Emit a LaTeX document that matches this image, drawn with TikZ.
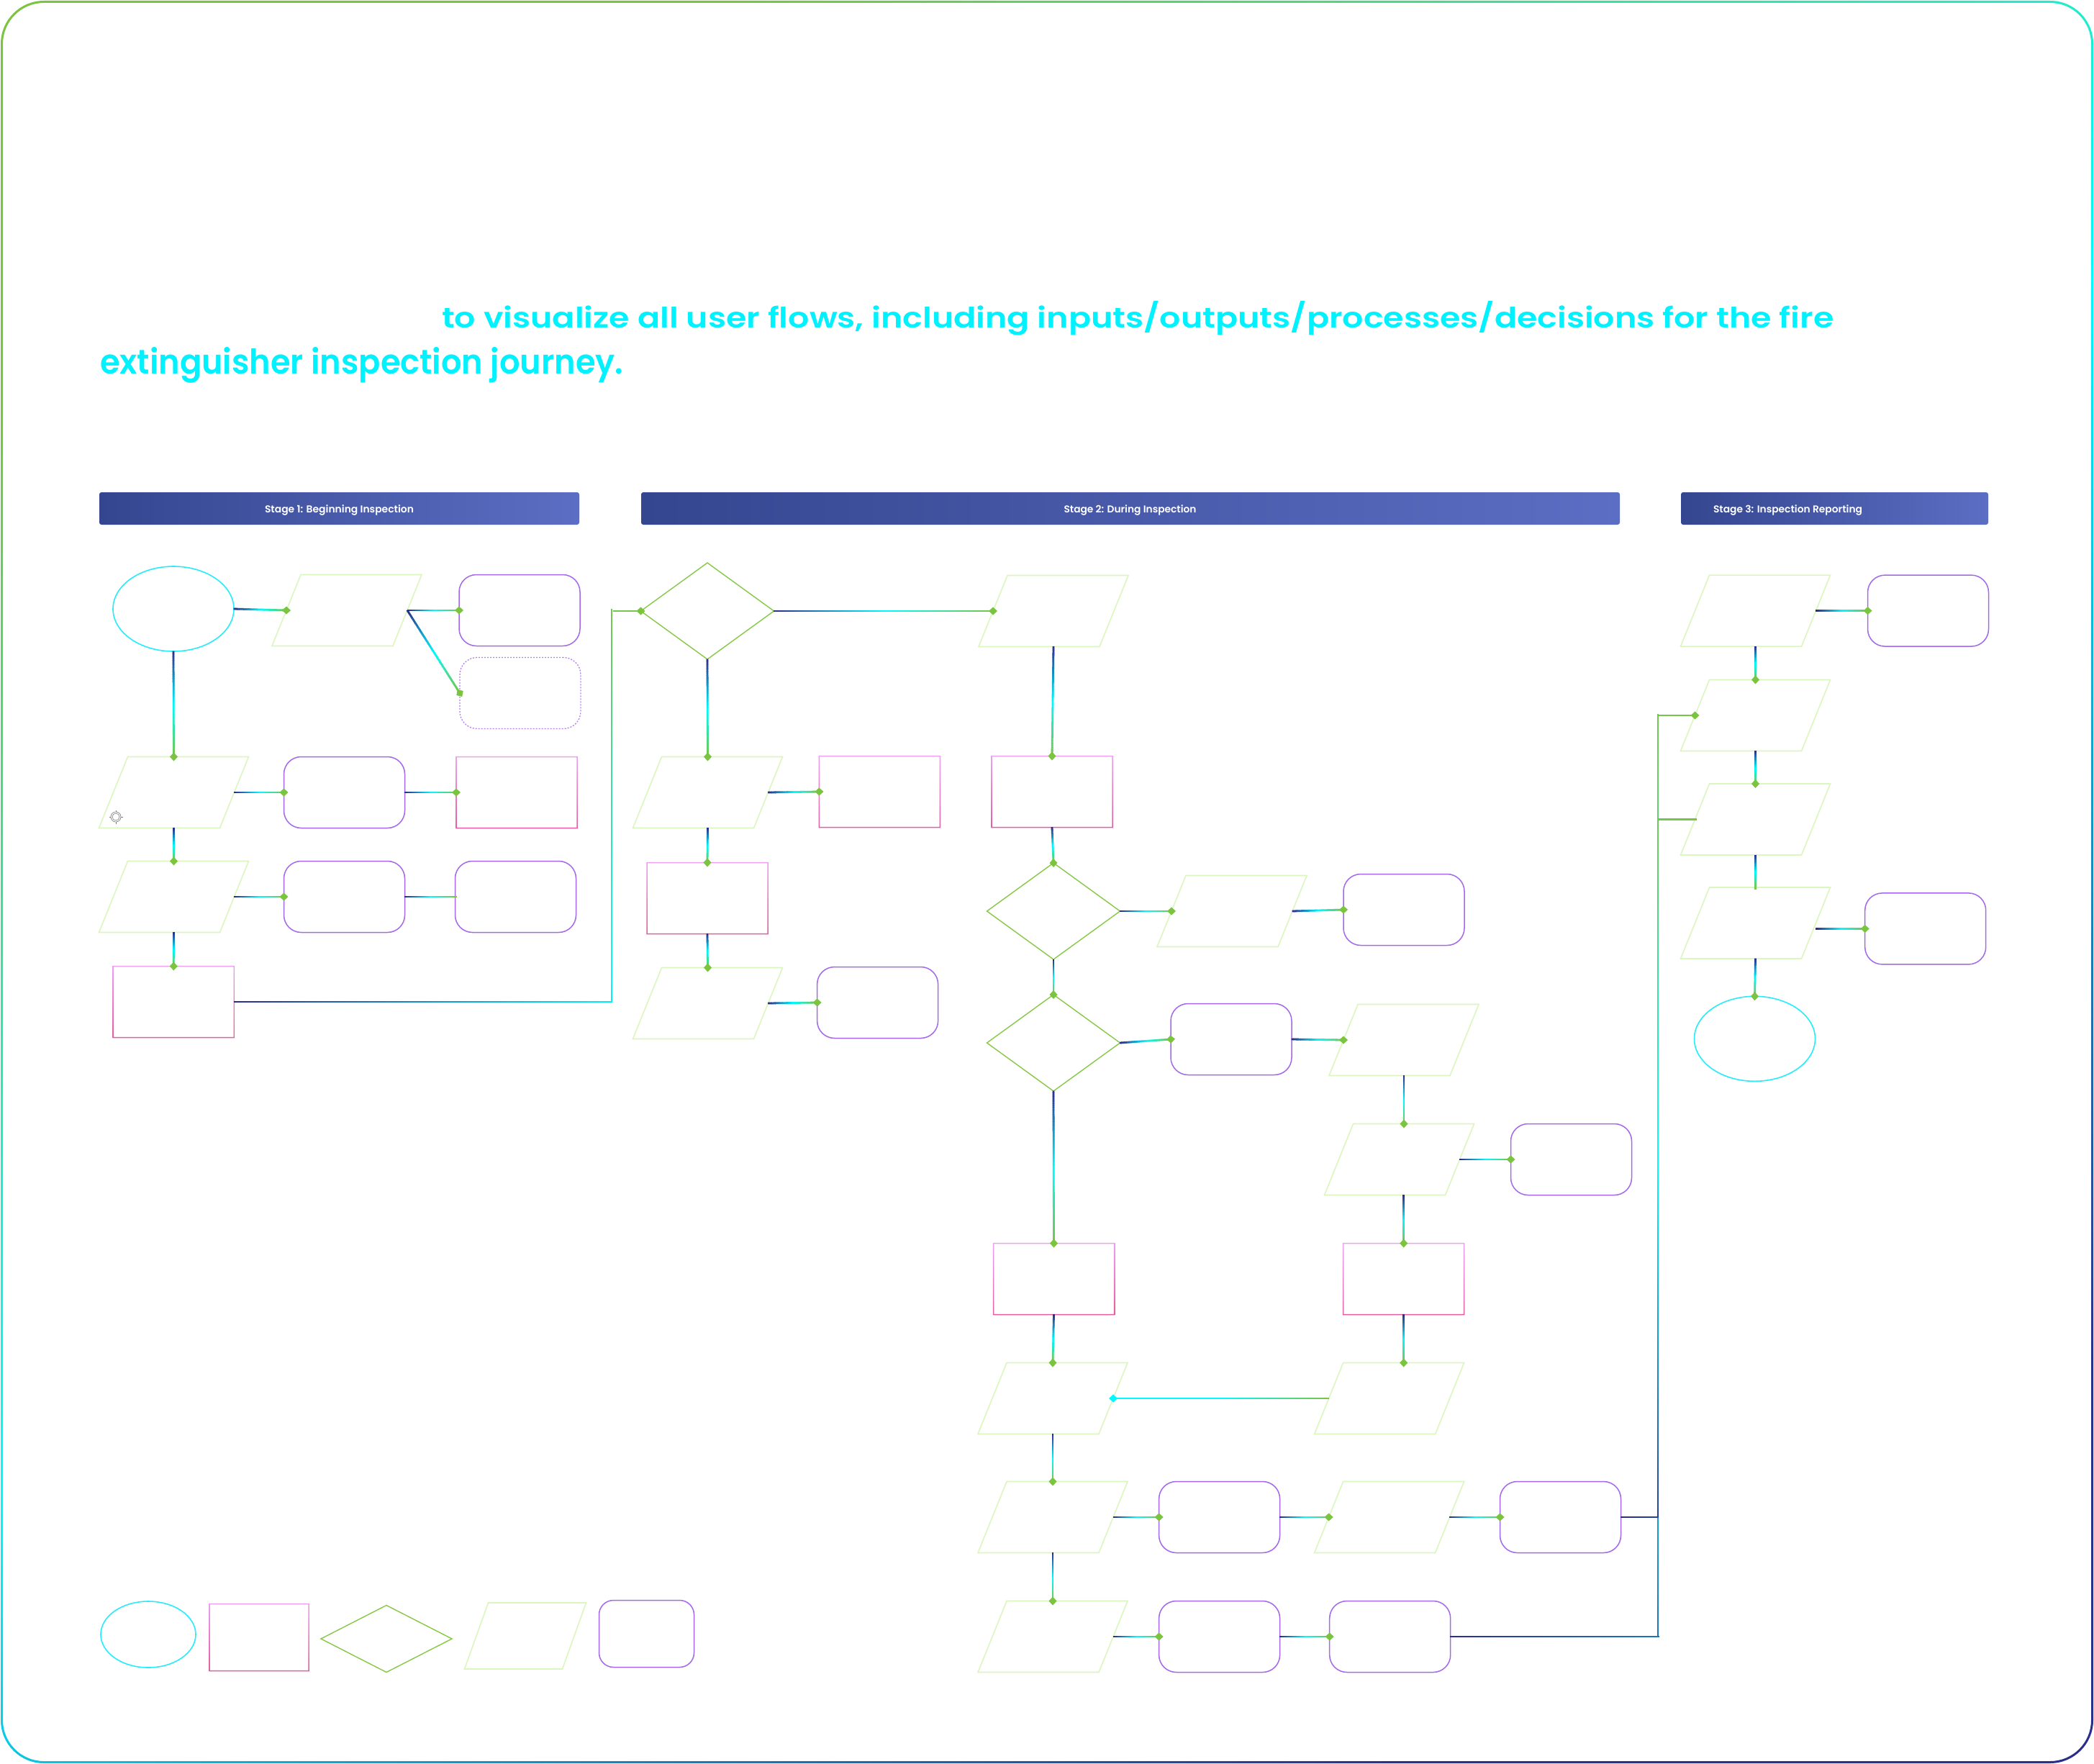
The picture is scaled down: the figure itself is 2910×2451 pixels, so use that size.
\documentclass[tikz,border=0pt]{standalone}
\usepackage{fontspec}
\usetikzlibrary{shapes.geometric,decorations.markings,calc}
\newfontfamily\popp{Poppins SemiBold}
\definecolor{cnavy}{RGB}{43,47,140}
\definecolor{ccyan}{RGB}{0,250,255}
\definecolor{cgreen}{RGB}{122,196,64}
\definecolor{titlec}{RGB}{0,242,255}
\definecolor{termc}{RGB}{40,236,250}
\definecolor{ioc}{RGB}{220,246,192}
\definecolor{decc}{RGB}{135,200,70}
\definecolor{rndc}{RGB}{164,104,234}
\definecolor{procA}{RGB}{236,160,238}
\definecolor{procB}{RGB}{230,92,160}
\definecolor{hdrA}{RGB}{52,70,143}
\definecolor{hdrB}{RGB}{92,110,195}
\definecolor{iconc}{RGB}{120,120,120}
\pgfdeclarehorizontalshading{framegrad}{100bp}{color(0bp)=(cgreen); color(25bp)=(cgreen); color(50bp)=(ccyan); color(75bp)=(cnavy); color(100bp)=(cnavy)}
\newcommand\gsegcode{%
  \pgfmathsetmacro\flowt{\pgfkeysvalueof{/pgf/decoration/mark info/distance from start}/\pgfdecoratedpathlength}%
  \pgfmathtruncatemacro\flowp{max(0,min(100,200*\flowt))}%
  \pgfmathtruncatemacro\flowq{max(0,min(100,200*\flowt-100))}%
  \ifnum\flowq>0 \edef\flowcol{\flowcC!\flowq!\flowcB}\else\edef\flowcol{\flowcB!\flowp!\flowcA}\fi
  \draw[draw=\flowcol, line width=2.8pt] (-0.4pt,0) -- (2.9pt,0);%
}
\tikzset{
  nbase/.style={inner sep=0pt, outer sep=0pt},
  shterm/.style={nbase, ellipse, draw=termc, line width=1.6pt, minimum width=168pt, minimum height=118pt},
  shproc/.style={nbase, rectangle, minimum width=168pt, minimum height=99pt},
  procring/.style={top color=procA, bottom color=procB, even odd rule},
  shrnd/.style={nbase, rectangle, rounded corners=24pt, draw=rndc, line width=1.5pt, minimum width=168pt, minimum height=99pt},
  shrndopt/.style={shrnd, draw=rndc!85, line width=1.3pt, dash pattern=on 2pt off 2pt},
  shdec/.style={nbase, diamond, draw=decc, line width=1.4pt, minimum width=185pt, minimum height=134pt},
  shio/.style={nbase, rectangle, minimum width=168pt, minimum height=99pt},
  iostroke/.style={draw=ioc, line width=1.6pt, line join=miter},
  hdr/.style={nbase, rectangle, rounded corners=3pt, left color=hdrA, right color=hdrB, minimum height=45pt},
  hdrtext/.style={nbase, text=white, anchor=base},
  titletext/.style={nbase, text=titlec, anchor=base west},
  gcols/.code n args={4}{\def\flowcA{#1}\def\flowcB{#2}\def\flowcC{#3}\def\flowcT{#4}},
  conn/.style={draw=none, postaction={decorate, decoration={markings,
     mark=between positions 0 and 1 step 2.5pt with {\gsegcode},
     mark=at position 1 with {\fill[fill=\flowcT] (-6pt,0) -- (0,5.5pt) -- (6pt,0) -- (0,-5.5pt) -- cycle;}}}},
  flow/.style={conn, gcols={cnavy}{ccyan}{cgreen}{cgreen}},
  backflow/.style={conn, gcols={cgreen}{ccyan}{ccyan}{ccyan}},
}
\newcommand\ionode[4][20]{%
  \node[shio,#4] (#2) at (#3) {};
  \draw[iostroke] ([xshift=#1pt]#2.north west) -- ([xshift=#1pt]#2.north east) -- ([xshift=-#1pt]#2.south east) -- ([xshift=-#1pt]#2.south west) -- cycle;}
\newcommand\procnode[3][]{%
  \node[shproc,#1] (#2) at (#3) {};
  \shade[procring] ([shift={(-0.75pt,0.75pt)}]#2.north west) rectangle ([shift={(0.75pt,-0.75pt)}]#2.south east)
     ([shift={(0.75pt,-0.75pt)}]#2.north west) rectangle ([shift={(-0.75pt,0.75pt)}]#2.south east);}
\begin{document}
\begin{tikzpicture}[x=1pt,y=-1pt]
\useasboundingbox (0,0) rectangle (2910,2451);
\fill[white] (0,0) rectangle (2910,2451);
% frame
\shade[shading=framegrad, shading angle=-60, even odd rule, rounded corners=60pt] (1,1) rectangle (2909,2450) [rounded corners=57pt] (4,4) rectangle (2906,2447);
% title
\node[titletext] (title1) at (614,455) {\resizebox{1934pt}{37pt}{\popp to visualize all user flows, including inputs/outputs/processes/decisions for the fire}};
\node[titletext] (title2) at (139,519) {\resizebox{727pt}{37pt}{\popp extinguisher inspection journey.}};
% headers
\node[hdr, minimum width=667pt] (hdr1) at (471.5,706.5) {};
\node[hdr, minimum width=1360pt] (hdr2) at (1571,706.5) {};
\node[hdr, minimum width=427pt] (hdr3) at (2549.5,706.5) {};
\node[hdrtext] (hdr1t) at (471.5,712) {\resizebox{207pt}{!}{\popp Stage 1: Beginning Inspection}};
\node[hdrtext] (hdr2t) at (1570.5,712) {\resizebox{184pt}{!}{\popp Stage 2: During Inspection}};
\node[hdrtext, anchor=base west] (hdr3t) at (2381,712) {\resizebox{207pt}{!}{\popp Stage 3: Inspection Reporting}};
% stage 1
\node[shterm] (start) at (241,846) {};
\ionode{in1}{482,848}{}
\node[shrnd] (out1) at (722,848) {};
\node[shrndopt] (out2) at (723,963) {};
\ionode{in2}{241.5,1101}{}
\node[shrnd] (out3) at (478.5,1101) {};
\procnode{proc1}{718,1101}
\ionode{in3}{241.5,1246}{}
\node[shrnd] (out4) at (478.5,1246) {};
\node[shrnd] (out5) at (716.5,1246) {};
\procnode{proc2}{241.3,1392}
\node[nbase, circle, draw=iconc, line width=0.6pt, minimum size=14pt] (icon) at (161,1135) {};
\node[nbase, circle, draw=iconc, line width=0.6pt, minimum size=10pt] (iconin) at (icon) {};
\foreach \a in {north,south,east,west} \draw[iconc, line width=0.6pt] (icon.\a) -- ($(icon.\a)!-2.5pt!(icon.center)$);
% stage 2
\node[shdec] (dec1) at (983,849) {};
\ionode{in4}{1464,849}{}
\ionode{in5}{983.5,1101}{}
\procnode{proc3}{1222.4,1100}
\procnode{proc4}{983,1248}
\ionode{in6}{983.5,1394}{}
\node[shrnd] (out6) at (1219.6,1393) {};
\procnode{proc5}{1462,1100}
\node[shdec] (dec2) at (1464,1266) {};
\ionode{in7}{1712,1266}{}
\node[shrnd] (out7) at (1951,1264) {};
\node[shdec] (dec3) at (1464,1449) {};
\node[shrnd] (out8) at (1711,1444) {};
\ionode{in8}{1951,1445}{}
\ionode{in9}{1944.5,1611}{}
\node[shrnd] (out9) at (2183.5,1611) {};
\procnode{proc6}{1464.5,1777}
\procnode{proc7}{1950.7,1777}
\ionode{in10}{1463,1943}{}
\ionode{in11}{1930.6,1943}{}
\ionode{in12}{1463,2108}{}
\node[shrnd] (out10) at (1694.6,2108) {};
\ionode{in13}{1930.6,2108}{}
\node[shrnd] (out11) at (2168.5,2108) {};
\ionode{in14}{1463,2274}{}
\node[shrnd] (out12) at (1694.6,2274) {};
\node[shrnd] (out13) at (1931.7,2274) {};
% stage 3
\ionode{in15}{2439.5,848.6}{}
\node[shrnd] (out14) at (2679.5,848.6) {};
\ionode{in16}{2439.5,994}{}
\ionode{in17}{2439.5,1138.5}{}
\ionode{in18}{2439.5,1282.5}{}
\node[shrnd] (out15) at (2675.7,1290.4) {};
\node[shterm] (finish) at (2438.5,1443.3) {};
% legend
\node[shterm, minimum width=132pt, minimum height=92pt] (lgterm) at (206,2271) {};
\procnode[minimum width=138pt, minimum height=93pt]{lgproc}{360,2275}
\node[shdec, minimum width=182pt, minimum height=93pt] (lgdec) at (537,2277) {};
\ionode[16.5]{lgio}{730,2273}{minimum width=136pt, minimum height=92pt}
\node[shrnd, rounded corners=20pt, minimum width=132pt, minimum height=93pt] (lgrnd) at (898.5,2270) {};
% junction coordinates
\coordinate (k1) at (850,0);
\coordinate (k2) at (2304,0);
% connectors stage 1
\draw[flow] (start.east) -- (in1.west);
\draw[flow] (in1.east) -- (out1.west);
\draw[flow] (in1.east) -- (out2.west);
\draw[flow] (start.south) -- (in2.north);
\draw[flow] (in2.east) -- (out3.west);
\draw[flow] (out3.east) -- (proc1.west);
\draw[flow] (in2.south) -- (in3.north);
\draw[flow] (in3.east) -- (out4.west);
\draw[flow] (out4.east) -- (out5.west);
\draw[flow] (in3.south) -- (proc2.north);
\draw[flow] (proc2.east) -- (proc2.east -| k1) |- (dec1.west);
% connectors stage 2
\draw[flow] (dec1.east) -- (in4.west);
\draw[flow] (dec1.south) -- (in5.north);
\draw[flow] (in5.east) -- (proc3.west);
\draw[flow] (in5.south) -- (proc4.north);
\draw[flow] (proc4.south) -- (in6.north);
\draw[flow] (in6.east) -- (out6.west);
\draw[flow] (in4.south) -- (proc5.north);
\draw[flow] (proc5.south) -- (dec2.north);
\draw[flow] (dec2.east) -- (in7.west);
\draw[flow] (in7.east) -- (out7.west);
\draw[flow] (dec2.south) -- (dec3.north);
\draw[flow] (dec3.east) -- (out8.west);
\draw[flow] (out8.east) -- (in8.west);
\draw[flow] (in8.south) -- (in8.south |- in9.north);
\draw[flow] (in9.east) -- (out9.west);
\draw[flow] (proc7.north |- in9.south) -- (proc7.north);
\draw[flow] (dec3.south) -- (proc6.north);
\draw[flow] (proc6.south) -- (in10.north);
\draw[flow] (proc7.south) -- (proc7.south |- in11.north);
\draw[backflow] (in11.west) -- (in10.east);
\draw[flow] (in10.south) -- (in12.north);
\draw[flow] (in12.east) -- (out10.west);
\draw[flow] (out10.east) -- (in13.west);
\draw[flow] (in13.east) -- (out11.west);
\draw[flow] (in12.south) -- (in14.north);
\draw[flow] (in14.east) -- (out12.west);
\draw[flow] (out12.east) -- (out13.west);
\draw[flow] (out13.east) -- (out13.east -| k2) |- (in16.west);
\draw[flow] (out11.east) -- (out11.east -| k2) |- (in17.west);
% connectors stage 3
\draw[flow] (in15.east) -- (out14.west);
\draw[flow] (in15.south) -- (in16.north);
\draw[flow] (in16.south) -- (in17.north);
\draw[flow] (in17.south) -- (in18.north);
\draw[flow] (in18.east |- out15.west) -- (out15.west);
\draw[flow] (in18.south) -- (finish.north);
\end{tikzpicture}
\end{document}
